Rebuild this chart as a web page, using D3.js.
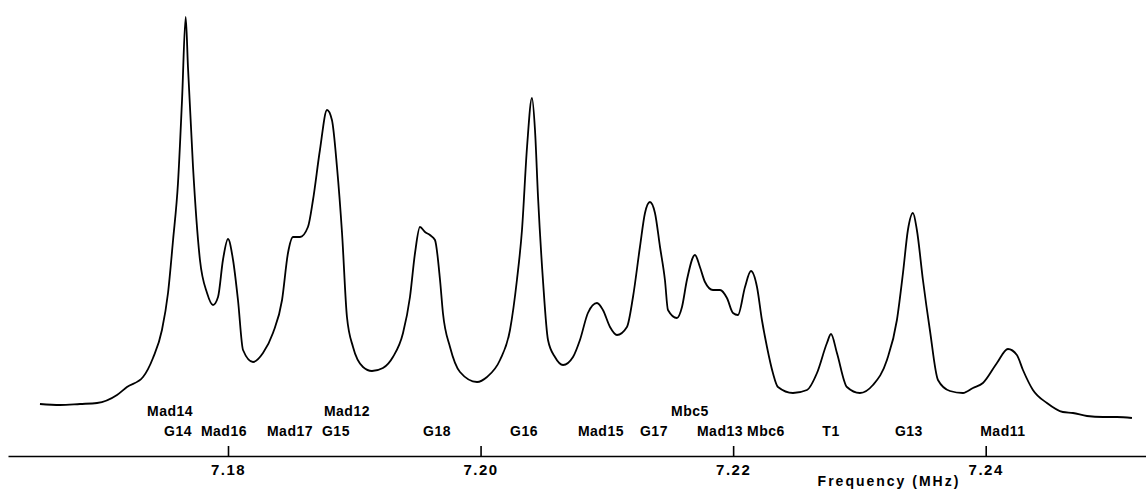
<!DOCTYPE html>
<html>
<head>
<meta charset="utf-8">
<script src="https://cdn.jsdelivr.net/npm/d3@7"></script>
<style>
  html, body { margin: 0; padding: 0; background: #fff; }
  svg { display: block; }
  text { font-family: "Liberation Sans", Arial, sans-serif; font-weight: bold; fill: #000; }
</style>
</head>
<body>
<svg id="chart" width="1146" height="489"></svg>
<script>
// Spectrum trace: frequency (MHz) and intensity (arbitrary units)
const freq = [
  7.16511, 7.16670, 7.16828, 7.16963, 7.17121, 7.17200, 7.17327, 7.17406, 7.17477, 7.17525,
  7.17565, 7.17604, 7.17636, 7.17665, 7.17683, 7.17723, 7.17778, 7.17834, 7.17881, 7.17921,
  7.17960, 7.18000, 7.18040, 7.18079, 7.18119, 7.18198, 7.18277, 7.18356, 7.18428, 7.18475,
  7.18515, 7.18570, 7.18633, 7.18673, 7.18728, 7.18784, 7.18823, 7.18863, 7.18903, 7.18942,
  7.18990, 7.19069, 7.19140, 7.19227, 7.19306, 7.19386, 7.19441, 7.19481, 7.19520, 7.19560,
  7.19599, 7.19639, 7.19679, 7.19702, 7.19758, 7.19837, 7.19972, 7.20051, 7.20154, 7.20233,
  7.20288, 7.20328, 7.20368, 7.20407, 7.20431, 7.20455, 7.20494, 7.20534, 7.20589, 7.20653,
  7.20732, 7.20787, 7.20850, 7.20922, 7.20969, 7.21025, 7.21080, 7.21159, 7.21207, 7.21262,
  7.21302, 7.21341, 7.21381, 7.21421, 7.21460, 7.21484, 7.21555, 7.21595, 7.21634, 7.21698,
  7.21737, 7.21777, 7.21840, 7.21896, 7.21951, 7.21999, 7.22038, 7.22094, 7.22141, 7.22189,
  7.22228, 7.22268, 7.22315, 7.22355, 7.22474, 7.22585, 7.22664, 7.22743, 7.22775, 7.22822,
  7.22901, 7.23004, 7.23107, 7.23218, 7.23297, 7.23345, 7.23384, 7.23424, 7.23455, 7.23503,
  7.23558, 7.23622, 7.23717, 7.23820, 7.23899, 7.23978, 7.24089, 7.24176, 7.24247, 7.24295,
  7.24374, 7.24485, 7.24611, 7.24691, 7.24802, 7.24928, 7.25039, 7.25158
];
const intensity = [
  52, 51, 52, 53, 61, 69, 79, 98, 126, 163,
  216, 273, 356, 439, 389, 289, 196, 163, 151, 159,
  196, 217, 196, 156, 106, 94, 103, 123, 156, 203,
  219, 219, 229, 256, 306, 346, 336, 289, 223, 139,
  109, 89, 85, 88, 99, 123, 159, 203, 229, 224,
  221, 216, 176, 143, 109, 84, 74, 79, 96, 126,
  176, 226, 309, 358, 326, 259, 176, 116, 99, 91,
  99, 116, 143, 153, 146, 129, 121, 129, 159, 209,
  243, 254, 243, 209, 176, 146, 138, 149, 176, 201,
  189, 174, 166, 166, 158, 143, 141, 169, 185, 169,
  136, 109, 83, 69, 63, 66, 83, 113, 122, 103,
  69, 63, 71, 96, 136, 183, 226, 243, 226, 176,
  126, 76, 65, 63, 68, 73, 93, 107, 101, 86,
  66, 53, 44, 43, 40, 39, 39, 38
];

// Peak assignments
const peakNames = ["Mad14", "G14", "Mad16", "Mad17", "G15", "Mad12", "G18", "G16", "Mad15",
                   "G17", "Mbc5", "Mad13", "Mbc6", "T1", "G13", "Mad11"];
const peakFreqs = [7.17541, 7.17604, 7.17968, 7.18491, 7.18855, 7.18942, 7.19655, 7.20344, 7.20953,
                   7.21373, 7.21658, 7.21896, 7.22260, 7.22775, 7.23392, 7.24136];
const peakRows  = [1, 2, 2, 2, 2, 1, 2, 2, 2, 2, 1, 2, 2, 2, 2, 2];

const tickValues = [7.18, 7.20, 7.22, 7.24];
const xTitle = "Frequency (MHz)";

const svg = d3.select("#chart");
const W = 1146, H = 489;
const axisY = 456;

const x = d3.scaleLinear().domain([7.18, 7.24]).range([228, 985.7]);
const y = d3.scaleLinear().domain([0, 456]).range([axisY, 0]);

// Axis spanning almost the full width
const xAxisScale = x.copy().domain([x.invert(8), x.invert(W)]).range([8, W]);
const axis = d3.axisBottom(xAxisScale)
  .tickValues(tickValues)
  .tickFormat(d3.format(".2f"))
  .tickSize(-10)
  .tickSizeOuter(0)
  .tickPadding(8);

const gAxis = svg.append("g").attr("transform", `translate(0,${axisY})`).call(axis);
gAxis.select(".domain").attr("stroke", "#000").attr("stroke-width", 1.6);
gAxis.selectAll(".tick line").attr("stroke", "#000").attr("stroke-width", 1.6);
gAxis.selectAll(".tick text")
  .attr("font-family", "Liberation Sans, Arial, sans-serif")
  .attr("font-weight", "bold")
  .attr("font-size", 15)
  .attr("letter-spacing", "1.5px")
  .attr("fill", "#000");

// Trace
const pts = freq.map((f, i) => [f, intensity[i]]);
const line = d3.line()
  .x(d => x(d[0]))
  .y(d => y(d[1]))
  .curve(d3.curveMonotoneX);
svg.append("path")
  .datum(pts)
  .attr("d", line)
  .attr("fill", "none")
  .attr("stroke", "#000")
  .attr("stroke-width", 1.8)
  .attr("stroke-linejoin", "round");

// Peak labels
const rowY = {1: 416, 2: 436};
svg.append("g").selectAll("text")
  .data(peakNames)
  .join("text")
  .attr("x", (d, i) => x(peakFreqs[i]))
  .attr("y", (d, i) => rowY[peakRows[i]])
  .attr("text-anchor", "middle")
  .attr("font-size", 14)
  .attr("letter-spacing", "0.5px")
  .text(d => d);

// Axis title
svg.append("text")
  .attr("x", 889)
  .attr("y", 486)
  .attr("text-anchor", "middle")
  .attr("font-size", 14)
  .attr("letter-spacing", "2px")
  .text(xTitle);
</script>
</body>
</html>
